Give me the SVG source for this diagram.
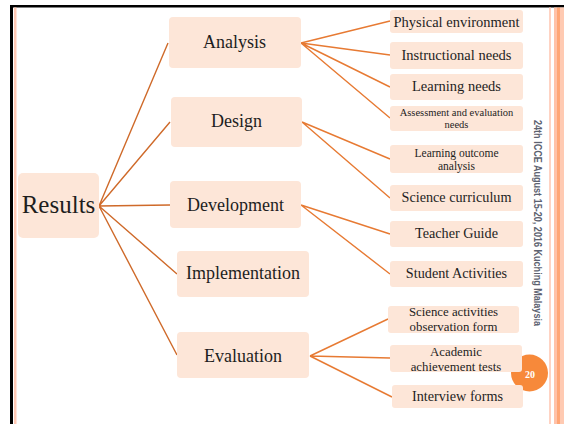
<svg xmlns="http://www.w3.org/2000/svg" width="564" height="424" viewBox="0 0 564 424">
<style>
.box{fill:#fde6d8;}
.t{font-family:'Liberation Serif','DejaVu Serif',serif;fill:#1e1e1e;text-anchor:middle;}
.l1{stroke:#cf6a2a;stroke-width:1.4;fill:none;}
.l2{stroke:#e77a33;stroke-width:1.4;fill:none;}
</style>
<rect x="0" y="0" width="564" height="424" fill="#ffffff"/>
<rect x="10" y="5" width="554" height="2.5" fill="#000"/>
<rect x="10" y="5" width="3" height="419" fill="#000"/>
<rect x="14" y="7.5" width="2.5" height="417" fill="#ffc9b5"/>
<rect x="549" y="7.5" width="2" height="417" fill="#ffd3c3"/>
<rect x="554" y="7.5" width="3" height="417" fill="#ffc2a8"/>
<rect x="557" y="7.5" width="3" height="417" fill="#ffa676"/>
<rect x="560" y="7.5" width="4" height="417" fill="#ffcab2"/>
<text x="534" y="223" transform="rotate(90 534 223)" font-family="Liberation Sans, Arial, sans-serif" font-weight="bold" font-size="10.5" fill="#5d6270" text-anchor="middle" textLength="206" lengthAdjust="spacingAndGlyphs">24th ICCE August 15-20, 2016 Kuching Malaysia</text>
<g id="page-number">
<circle cx="529.5" cy="373" r="18.5" fill="#f7893a"/>
<text x="530" y="378" font-family="Liberation Serif, serif" font-weight="bold" font-size="10" fill="#fff" text-anchor="middle">20</text>
</g>
<g id="connectors">
<path class="l1" d="M99 206 L168 43 M99 206 L170 122 M99 206 L170 205 M99 206 L177 274 M99 206 L177 355"/>
<path class="l2" d="M301 43 L390 21 M301 43 L390 55 M301 43 L390 87 M301 43 L390 118"/>
<path class="l2" d="M302 122 L390 159 M302 122 L390 198"/>
<path class="l2" d="M301 205 L390 234 M301 205 L390 274"/>
<path class="l2" d="M310 356 L388 319 M310 356 L390 358 M310 356 L392 397"/>
</g>
<g font-family="Liberation Serif, DejaVu Serif, serif">
<g id="results"><rect class="box" x="18" y="173" width="81" height="65" rx="5"/><text class="t" x="58.5" y="213" font-size="25">Results</text></g>
<g id="analysis"><rect class="box" x="169" y="17" width="132" height="51" rx="4"/><text class="t" x="234.5" y="48" font-size="18">Analysis</text></g>
<g id="design"><rect class="box" x="171" y="97" width="131" height="50" rx="4"/><text class="t" x="236.5" y="127" font-size="18">Design</text></g>
<g id="development"><rect class="box" x="170" y="181" width="131" height="47" rx="4"/><text class="t" x="235.5" y="211" font-size="18">Development</text></g>
<g id="implementation"><rect class="box" x="177" y="251" width="132" height="46" rx="4"/><text class="t" x="243" y="279" font-size="18">Implementation</text></g>
<g id="evaluation"><rect class="box" x="177" y="332" width="132" height="46" rx="4"/><text class="t" x="243" y="362" font-size="18">Evaluation</text></g>
<g id="physical-environment"><rect class="box" x="390" y="10" width="133" height="23" rx="3"/><text class="t" x="456.5" y="27" font-size="14.5">Physical environment</text></g>
<g id="instructional-needs"><rect class="box" x="390" y="42" width="133" height="27" rx="3"/><text class="t" x="456.5" y="60" font-size="14.5">Instructional needs</text></g>
<g id="learning-needs"><rect class="box" x="390" y="74" width="133" height="26" rx="3"/><text class="t" x="456.5" y="91" font-size="14.5">Learning needs</text></g>
<g id="assessment"><rect class="box" x="390" y="106" width="133" height="25" rx="3"/><text class="t" x="456.5" y="115.5" font-size="10.5">Assessment and evaluation</text><text class="t" x="456.5" y="128" font-size="10.5">needs</text></g>
<g id="learning-outcome"><rect class="box" x="390" y="145" width="133" height="28" rx="3"/><text class="t" x="456.5" y="156.5" font-size="11.5">Learning outcome</text><text class="t" x="456.5" y="169.5" font-size="11.5">analysis</text></g>
<g id="science-curriculum"><rect class="box" x="390" y="185" width="133" height="26" rx="3"/><text class="t" x="456.5" y="202" font-size="14.2">Science curriculum</text></g>
<g id="teacher-guide"><rect class="box" x="390" y="221" width="133" height="26" rx="3"/><text class="t" x="456.5" y="238" font-size="14.2">Teacher Guide</text></g>
<g id="student-activities"><rect class="box" x="390" y="261" width="133" height="26" rx="3"/><text class="t" x="456.5" y="278" font-size="14.2">Student Activities</text></g>
<g id="observation-form"><rect class="box" x="388" y="306" width="131" height="27" rx="3"/><text class="t" x="453.5" y="316" font-size="12.8">Science activities</text><text class="t" x="453.5" y="330.5" font-size="12.8">observation form</text></g>
<g id="academic-tests"><rect class="box" x="390" y="345" width="132" height="27" rx="3"/><text class="t" x="456" y="356" font-size="12.8">Academic</text><text class="t" x="456" y="370.5" font-size="12.8">achievement tests</text></g>
<g id="interview-forms"><rect class="box" x="392" y="385" width="131" height="23" rx="3"/><text class="t" x="457.5" y="401" font-size="14.2">Interview forms</text></g>
</g>
</svg>
